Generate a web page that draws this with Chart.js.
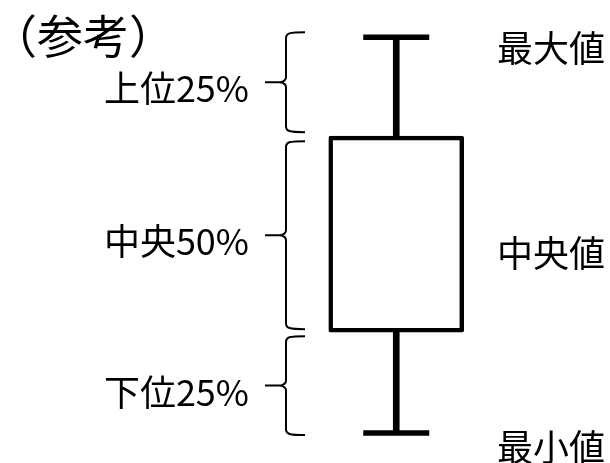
<!DOCTYPE html>
<html><head><meta charset="utf-8">
<script src="https://cdn.jsdelivr.net/npm/chart.js@4.4.0/dist/chart.umd.min.js"></script>
<style>html,body{margin:0;padding:0;background:#fff;} #wrap{width:610px;height:463px;}</style>
</head><body><div id="wrap"><canvas id="c" width="610" height="463"></canvas></div>
<script>
// ---- data ----
const categories = ['参考'];
const minValues = [0];
const q1Values = [25.5];
const medianValues = [50];
const q3Values = [75];
const maxValues = [100];
const titleText = '（参考）';
const leftLabels = ['上位25%', '中央50%', '下位25%'];
const rightLabels = ['最大値', '中央値', '最小値'];

const FONT = '"Noto Sans CJK JP", "Noto Sans CJK SC", sans-serif';

function drawBrace(ctx, xv, xr, xt, yTop, yBot) {
  const ym = (yTop + yBot) / 2;
  ctx.beginPath();
  ctx.moveTo(xr, yTop);
  ctx.bezierCurveTo(xv + 3, yTop, xv, yTop + 1, xv, yTop + 6);
  ctx.lineTo(xv, ym - 5);
  ctx.quadraticCurveTo(xv, ym - 1, xv - 6, ym);
  ctx.lineTo(xt, ym);
  ctx.moveTo(xv - 6, ym);
  ctx.quadraticCurveTo(xv, ym + 1, xv, ym + 5);
  ctx.lineTo(xv, yBot - 6);
  ctx.bezierCurveTo(xv, yBot - 1, xv + 3, yBot, xr, yBot);
  ctx.stroke();
}

const annotate = {
  id: 'annotate',
  afterDraw(chart) {
    const ctx = chart.ctx;
    const y = chart.scales.y;
    const pMax = y.getPixelForValue(maxValues[0]);
    const pQ3 = y.getPixelForValue(q3Values[0]);
    const pMed = y.getPixelForValue(medianValues[0]);
    const pQ1 = y.getPixelForValue(q1Values[0]);
    const pMin = y.getPixelForValue(minValues[0]);
    ctx.save();
    ctx.strokeStyle = '#000';
    ctx.lineWidth = 2;
    ctx.lineCap = 'butt';
    const braces = [
      [pMax - 5, pQ3 - 4],
      [pQ3 + 5, pQ1 - 3],
      [pQ1 + 4, pMin + 2]
    ];
    ctx.fillStyle = '#000';
    ctx.font = '36px ' + FONT;
    ctx.textBaseline = 'alphabetic';
    braces.forEach((b, i) => {
      drawBrace(ctx, 286, 305, 265, b[0], b[1]);
      ctx.textAlign = 'right';
      ctx.fillText(leftLabels[i], 249, (b[0] + b[1]) / 2 + 20);
    });
    ctx.textAlign = 'left';
    const rightPos = [pMax + 25, pMed + 32, pMin + 28];
    rightLabels.forEach((t, i) => ctx.fillText(t, 497, rightPos[i]));
    ctx.font = '46px ' + FONT;
    ctx.fillText(titleText, -9, 53);
    ctx.restore();
  }
};

new Chart(document.getElementById('c'), {
  type: 'bar',
  data: {
    labels: categories,
    datasets: [
      {
        label: 'box',
        data: q1Values.map((v, i) => [v, q3Values[i]]),
        backgroundColor: '#fff', borderColor: '#000', borderWidth: 4.5,
        borderSkipped: false, borderRadius: 2, barThickness: 135, grouped: false, order: 0, clip: false
      },
      {
        label: 'upper',
        data: q3Values.map((v, i) => [v, maxValues[i]]),
        backgroundColor: '#000', borderWidth: 0, barThickness: 6, grouped: false, order: 2, clip: false
      },
      {
        label: 'lower',
        data: minValues.map((v, i) => [v, q1Values[i]]),
        backgroundColor: '#000', borderWidth: 0, barThickness: 6, grouped: false, order: 2, clip: false
      },
      {
        type: 'line', label: 'maxCap', data: maxValues, showLine: false,
        pointStyle: 'line', pointRadius: 33, pointHoverRadius: 33,
        pointBorderWidth: 5.5, pointBorderColor: '#000', order: 3, clip: false
      },
      {
        type: 'line', label: 'minCap', data: minValues, showLine: false,
        pointStyle: 'line', pointRadius: 33, pointHoverRadius: 33,
        pointBorderWidth: 5.5, pointBorderColor: '#000', order: 3, clip: false
      }
    ]
  },
  options: {
    responsive: false, animation: false, devicePixelRatio: 1,
    layout: { padding: { left: 221, right: 36, top: 36, bottom: 36 } },
    plugins: { legend: { display: false }, tooltip: { enabled: false } },
    scales: {
      x: { display: false },
      y: { display: false, min: 2.17, max: 99.676 }
    }
  },
  plugins: [annotate]
});
</script>
</body></html>
